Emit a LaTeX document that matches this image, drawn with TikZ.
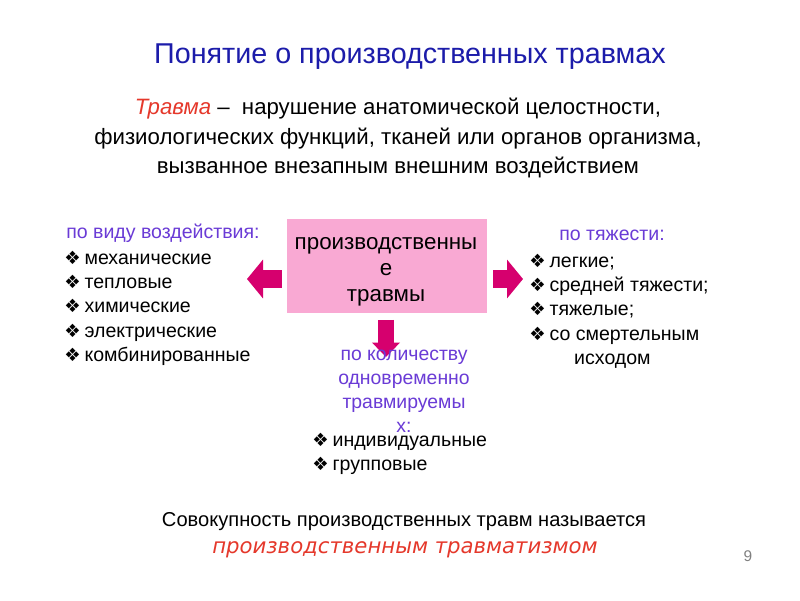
\documentclass[tikz,border=0pt]{standalone}
\usepackage{fontspec}
\setmainfont{Liberation Sans}
\newfontfamily\symfont{DejaVu Sans}
\newfontfamily\verdfont{DejaVu Sans}
\usepackage{xcolor}
\usetikzlibrary{calc}
\usetikzlibrary{arrows.meta}
\usetikzlibrary{positioning}

\definecolor{titleblue}{HTML}{1C1CAA}
\definecolor{headviolet}{HTML}{6A3BD6}
\definecolor{termred}{HTML}{E5382B}
\definecolor{boxpink}{HTML}{F9A9D3}
\definecolor{arrowred}{HTML}{D6006E}

\newcommand{\bul}{{\symfont\fontsize{13}{13}\selectfont ❖}\hspace{0.2em}}

\tikzset{
  fatarrow/.style={draw=arrowred, line width=0.47cm,
    -{Triangle[length=0.4cm 0 0, width=0.95cm 0 0]}, arrowred},
  slimarrow/.style={draw=arrowred, line width=0.42cm,
    -{Triangle[length=0.36cm 0 0, width=0.68cm 0 0]}, arrowred},
  listtext/.style={font=\fontsize{13.9}{17.2}\selectfont, align=left,
    inner sep=0pt},
  headtext/.style={font=\fontsize{13.9}{17}\selectfont, text=headviolet,
    inner sep=0pt}
}

\begin{document}
\begin{tikzpicture}[x=0.025cm,y=-0.025cm]
        %RAMKA
        \useasboundingbox (0,0) rectangle (800,600);
        \fill[white] (0,0) rectangle (800,600);

        %JUDUL
        \node[text=titleblue, font=\fontsize{20.4}{23}\selectfont] (title) at (410,57)
            {Понятие о производственных травмах};

        %DEFINISI
        \node[align=center, font=\fontsize{15.8}{21}\selectfont] (defn) at (398,138)
            {{\itshape\color{termred}Травма} --\ \ нарушение анатомической целостности,\\
             физиологических функций, тканей или органов организма,\\
             вызванное внезапным внешним воздействием};

        %KOTAK
        \node[fill=boxpink, minimum width=5cm, minimum height=2.325cm] (box) at (387,266) {};
        \node[align=center, font=\fontsize{15.9}{18.5}\selectfont] (boxtext) at (386,272)
            {производственны\\е\\травмы};

        %PANAH
        \coordinate (lt) at (247,279);
        \coordinate (rt) at (523,279);
        \coordinate (dt) at (386,357);
        \draw[fatarrow] ([shift={(-5,13)}]box.west) -- (lt);
        \draw[fatarrow] ([shift={(6,13)}]box.east) -- (rt);
        \draw[slimarrow] ([shift={(-1,7)}]box.south) -- (dt);

        %KIRI
        \node[headtext, anchor=west] (kind) at (66,233) {по виду воздействия:};
        \node[listtext, anchor=north west] (kindlist) at (64,251)
            {\bul механические\\ \bul тепловые\\ \bul химические\\
             \bul электрические\\ \bul комбинированные};

        %KANAN
        \node[headtext, anchor=west] (grav) at (559,235) {по тяжести:};
        \node[listtext, anchor=north west] (gravlist) at (529,254)
            {\bul легкие;\\ \bul средней тяжести;\\ \bul тяжелые;\\
             \bul со смертельным\\ \hspace{2.3em}исходом};

        %BAWAH
        \node[headtext, align=center, font=\fontsize{13.8}{17}\selectfont] (count) at (404,391)
            {по количеству\\одновременно\\травмируемы\\х:};
        \node[listtext, anchor=north west] (countlist) at (312,433)
            {\bul индивидуальные\\ \bul групповые};

        %KESIMPULAN
        \node[font=\fontsize{14.3}{16}\selectfont] (sum) at (404,522)
            {Совокупность производственных травм называется};
        \node[text=termred, font=\verdfont\itshape\fontsize{15.1}{17}\selectfont] (term) at (405,550)
            {производственным травматизмом};

        %NOMOR
        \node[text=gray, font=\fontsize{11}{12}\selectfont] (page) at (748,556) {9};
    \end{tikzpicture}
\end{document}
